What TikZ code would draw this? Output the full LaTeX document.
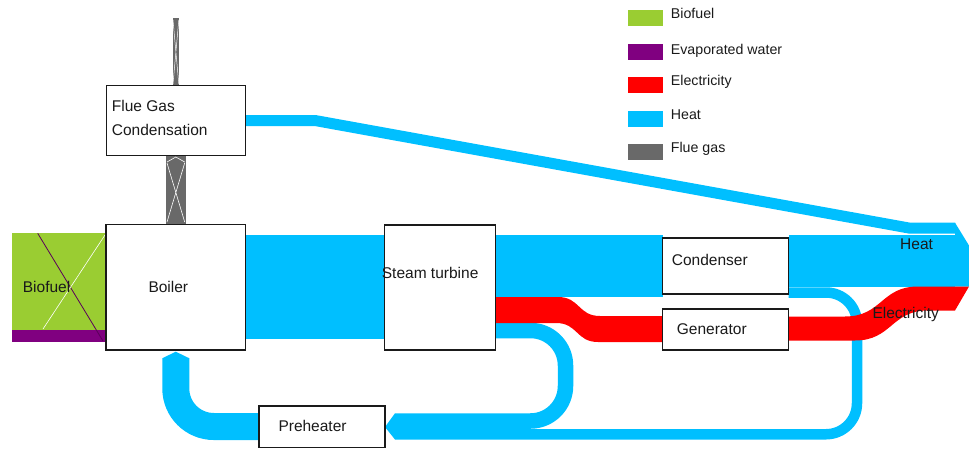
\documentclass[tikz,border=0pt]{standalone}
\usepackage{fontspec}
\setmainfont{Liberation Sans}
\definecolor{cbio}{HTML}{9ACD32}
\definecolor{cevap}{HTML}{800080}
\definecolor{celec}{HTML}{FF0000}
\definecolor{cheat}{HTML}{00BFFF}
\definecolor{cflue}{HTML}{696969}
\definecolor{ctext}{HTML}{1A1A1A}
\pgfdeclarelayer{background}
\pgfsetlayers{background,main}
\tikzset{
  box/.style={draw=ctext, line width=1.4pt, fill=white, inner sep=0pt, outer sep=0pt},
  lbl/.style={font=\fontsize{15.5}{23.3}\selectfont, inner sep=0pt, anchor=base west, text=ctext, align=left},
  leg/.style={font=\fontsize{14.2}{17}\selectfont, inner sep=0pt, anchor=base west, text=ctext},
  xline/.style={draw=white, line width=0.6pt},
}
\begin{document}
\begin{tikzpicture}[x=1pt,y=-1pt]
\useasboundingbox (0,0) rectangle (969,450);

% process boxes
\node[box, minimum width=139, minimum height=69.7] (fgc) at (175.8,120.35) {};
\node[box, minimum width=139.5, minimum height=125.7] (boiler) at (175.75,287.15) {};
\node[box, minimum width=111.4, minimum height=125.2] (turbine) at (440,287.4) {};
\node[box, minimum width=125.8, minimum height=56] (condenser) at (725.6,266) {};
\node[box, minimum width=125.8, minimum height=41] (generator) at (725.6,329.5) {};
\node[box, minimum width=126, minimum height=41.7] (preheater) at (322,426.85) {};

% labels
\node[lbl] (fgclbl) at (111.7,135) {Flue Gas\\Condensation};
\node[lbl] (boilerlbl) at (148.3,292.7) {Boiler};
\node[lbl] (turbinelbl) at (381.7,278.3) {Steam turbine};
\node[lbl] (condenserlbl) at (671.7,265.7) {Condenser};
\node[lbl] (generatorlbl) at (676.7,334) {Generator};
\node[lbl] (preheaterlbl) at (278.3,431.7) {Preheater};

\begin{pgfonlayer}{background}
% biofuel and evaporated water
\fill[cbio] (11.7,233.3) rectangle (boiler.west |- 0,329.5);
\fill[cevap] (11.7,329.5) rectangle (boiler.west |- 0,342);
\draw[cevap!70!black, line width=0.8pt] (37.7,233.3) -- (103,341);
\draw[xline] (105,235) -- (43,329);

% flue gas boiler -> condensation
\fill[cflue] (fgc.south -| 166,0) rectangle (boiler.north -| 185.7,0);
\draw[xline] (167,163) -- (184.7,222) (184.7,163) -- (167,222) (167,162) -- (175.8,157) -- (184.7,162);
% flue gas out
\fill[cflue] (172.5,17.5) rectangle (fgc.north -| 179.3,0);
\draw[xline, line width=0.5pt] (173,20) -- (178.8,84) (178.8,20) -- (173,84);

% heat from flue gas condensation
\draw[cheat, line width=11pt, line join=miter] (fgc.east |- 0,120.5) -- (315,120.5) -- (910,228.2) -- (955,228.2);

% boiler -> turbine
\fill[cheat] (boiler.east |- 0,235) rectangle (turbine.west |- 0,338.5);
% turbine -> condenser
\fill[cheat] (turbine.east |- 0,235) rectangle (condenser.west |- 0,297);
% condenser -> heat
\fill[cheat] (condenser.east |- 0,234.5) rectangle (955,286.5);
\fill[cheat] (955,222.7) -- (969,245.5) -- (969,286.5) -- (955,286.5) -- cycle;

% condenser -> preheater
\draw[cheat, line width=10.5pt, rounded corners=31pt] (condenser.east |- 0,292.5) -- (857,292.5) -- (857,434.25) -- (395,434.25);
% turbine -> preheater
\draw[cheat, line width=15.5pt, rounded corners=35pt] (turbine.east |- 0,330.5) -- (565.5,330.5) -- (565.5,421) -- (395,421);
\fill[cheat] (395,413.25) -- (preheater.east |- 0,427) -- (395,439.5) -- cycle;

% preheater -> boiler
\draw[cheat, line width=27pt, rounded corners=38pt] (preheater.west |- 0,426.5) -- (175.8,426.5) -- (175.8,358);
\fill[cheat] (162.4,358.2) -- ([yshift=-1.7pt]boiler.south) -- (189.2,358.2) -- cycle;

% turbine -> generator
\fill[celec] (turbine.east |- 0,297) -- (558,297) .. controls (580,297) and (578,316) .. (600,316)
  -- (generator.west |- 0,316) -- (generator.west |- 0,342) -- (598,342)
  .. controls (576,342) and (578,323) .. (556,323) -- (turbine.east |- 0,323) -- cycle;
% generator -> electricity
\fill[celec] (generator.east |- 0,316.5) -- (845,316.5) .. controls (882,316.5) and (881,286.5) .. (918,286.5)
  -- (969,286.5) -- (955,310.5) -- (928,310.5)
  .. controls (891,310.5) and (892,340.5) .. (855,340.5) -- (generator.east |- 0,340.5) -- cycle;
\end{pgfonlayer}

% flow labels
\node[lbl] (biofuellbl) at (22.7,292.7) {Biofuel};
\node[lbl] (heatlbl) at (900,249.3) {Heat};
\node[lbl] (eleclbl) at (872.3,318.3) {Electricity};

% legend
\fill[cbio] (628,10) rectangle (663,25.7);
\fill[cevap] (628,44) rectangle (663,60);
\fill[celec] (628,77) rectangle (663,93);
\fill[cheat] (628,111) rectangle (663,127);
\fill[cflue] (628,144) rectangle (663,160);
\node[leg] (lgbio) at (670.7,18.3) {Biofuel};
\node[leg] (lgevap) at (670.7,54) {Evaporated water};
\node[leg] (lgelec) at (670.7,85.7) {Electricity};
\node[leg] (lgheat) at (670.7,119.3) {Heat};
\node[leg] (lgflue) at (670.7,152.7) {Flue gas};
\end{tikzpicture}
\end{document}
